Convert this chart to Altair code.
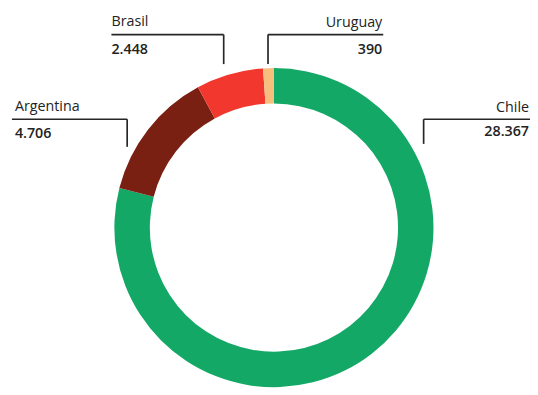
import altair as alt
import pandas as pd

# ---- data ----
countries = ["Chile", "Argentina", "Brasil", "Uruguay"]
values = [28367, 4706, 2448, 390]
value_labels = ["28.367", "4.706", "2.448", "390"]
colors = ["#14a867", "#7a2012", "#f1372e", "#f6bf7e"]

# ---- label layout (chart pixel coordinates) ----
label_align = ["right", "left", "left", "right"]
label_x = [529, 7, 105, 380]
name_y = [103, 102, 15, 16]
num_y = [127, 129, 44, 44]
hline_y = [110, 110, 24, 24]
hline_x1 = [422, 4, 105, 264]
hline_x2 = [545, 121, 219, 381]
tip_x = [422, 121, 219, 264]
tip_y = [135, 138, 54, 54]

W, H = 530, 387
CX, CY = 270, 220

arc_df = pd.DataFrame({"pais": countries, "valor": values, "orden": list(range(len(countries)))})

text_rows = []
for i, c in enumerate(countries):
    text_rows.append({"pais": c, "t": c, "x": label_x[i], "y": name_y[i], "align": label_align[i], "kind": "name"})
    text_rows.append({"pais": c, "t": value_labels[i], "x": label_x[i], "y": num_y[i], "align": label_align[i], "kind": "num"})
text_df = pd.DataFrame(text_rows)

seg_rows = []
for i, c in enumerate(countries):
    seg_rows.append({"x": hline_x1[i], "y": hline_y[i], "x2": hline_x2[i], "y2": hline_y[i]})
    seg_rows.append({"x": tip_x[i], "y": hline_y[i], "x2": tip_x[i], "y2": tip_y[i]})
seg_df = pd.DataFrame(seg_rows)

xs = alt.Scale(domain=[0, W], range=[0, W])
ys = alt.Scale(domain=[0, H], range=[0, H])

arc = alt.Chart(arc_df).mark_arc(innerRadius=126, outerRadius=162).encode(
    theta=alt.Theta("valor:Q", stack=True),
    order=alt.Order("orden:Q"),
    color=alt.Color("pais:N", scale=alt.Scale(domain=countries, range=colors), legend=None),
    x=alt.value(CX),
    y=alt.value(CY),
)

rules = alt.Chart(seg_df).mark_rule(color="#262626", strokeWidth=1.7).encode(
    x=alt.X("x:Q", scale=xs, axis=None),
    y=alt.Y("y:Q", scale=ys, axis=None),
    x2="x2:Q",
    y2="y2:Q",
)

def text_layer(al, kind, weight):
    return alt.Chart(text_df).transform_filter(
        (alt.datum.align == al) & (alt.datum.kind == kind)
    ).mark_text(
        align=al, baseline="alphabetic", font="Open Sans", fontSize=14.5,
        fontWeight=weight, color="#222222"
    ).encode(
        x=alt.X("x:Q", scale=xs, axis=None),
        y=alt.Y("y:Q", scale=ys, axis=None),
        text="t:N",
    )

chart = alt.layer(
    arc, rules,
    text_layer("left", "name", 400), text_layer("right", "name", 400),
    text_layer("left", "num", 600), text_layer("right", "num", 600),
).properties(
    width=W, height=H, autosize="none", padding=0
).configure_view(stroke=None)

chart.save("out.html", embed_options={"renderer": "svg", "actions": False})
